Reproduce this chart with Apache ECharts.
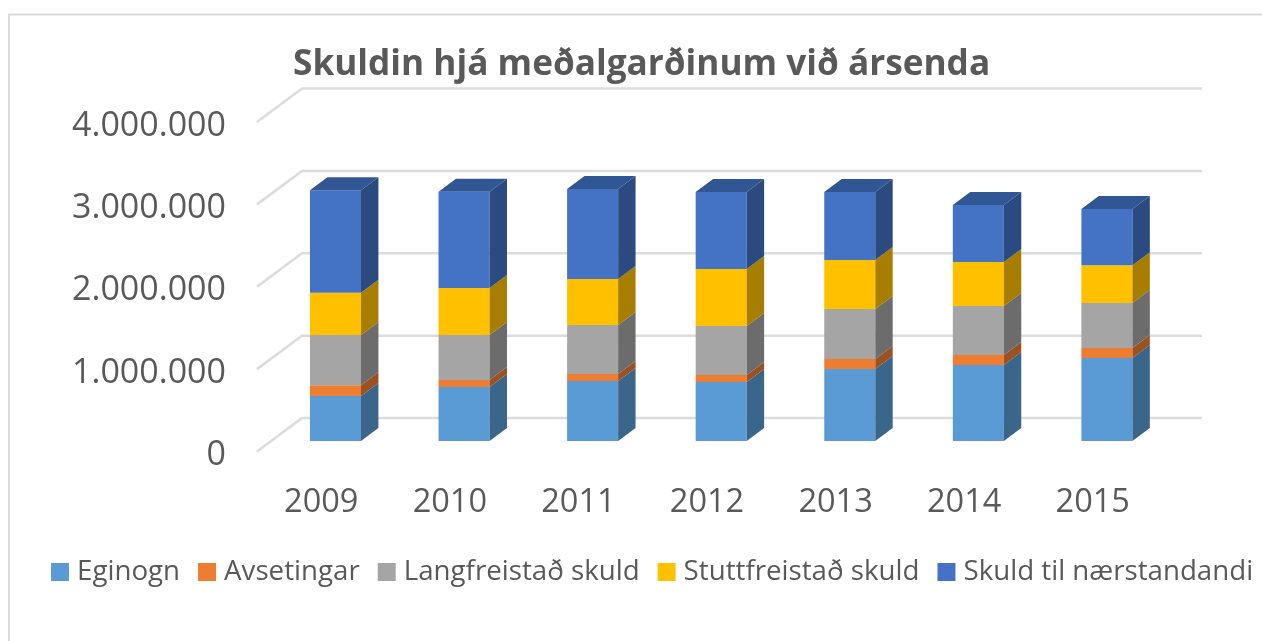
<!DOCTYPE html>
<html>
<head>
<meta charset="utf-8">
<title>Skuldin hjá meðalgarðinum við ársenda</title>
<script src="https://cdn.jsdelivr.net/npm/echarts@6/dist/echarts.min.js"></script>
<style>
html, body { margin: 0; padding: 0; background: #fff; }
#main { width: 1262px; height: 641px; }
</style>
</head>
<body>
<div id="main"></div>
<script>
var years = ['2009', '2010', '2011', '2012', '2013', '2014', '2015'];
var eginogn = [546000, 655000, 728000, 716000, 874000, 922000, 1007000];
var avsetingar = [130000, 85000, 85000, 85000, 121000, 121000, 121000];
var langfreistad = [610000, 546000, 595000, 595000, 607000, 595000, 546000];
var stuttfreistad = [513000, 570000, 558000, 692000, 595000, 534000, 461000];
var naerstandandi = [1246000, 1169000, 1092000, 934000, 825000, 692000, 680000];
var gridValues = [0, 1000000, 2000000, 3000000, 4000000];

var seriesNames = ['Eginogn', 'Avsetingar', 'Langfreistað skuld', 'Stuttfreistað skuld', 'Skuld til nærstandandi'];
var seriesValues = [eginogn, avsetingar, langfreistad, stuttfreistad, naerstandandi];
var frontColors = ['#5B9BD5', '#ED7D31', '#A5A5A5', '#FFC000', '#4472C4'];
var sideColors = ['#3A668C', '#9C5120', '#6C6C6C', '#A77E00', '#2B4A80'];
var topColor = '#315694';

// fake 3d: the floor runs back by this much, bars stand part way in
var floorDx = 45, floorDy = -33.5;
var barShiftX = 14.2, barShiftY = -10.5;
var barDepthX = 17.4, barDepthY = -13;

function makeBarSeries(idx) {
    var data = seriesValues[idx].map(function (v, i) {
        var base = 0;
        for (var k = 0; k < idx; k++) base += seriesValues[k][i];
        return [i, base, base + v];
    });
    return {
        name: seriesNames[idx],
        type: 'custom',
        silent: true,
        z: 3 + idx,
        itemStyle: { color: frontColors[idx] },
        encode: { x: 0, y: [1, 2] },
        data: data,
        renderItem: function (params, api) {
            var low = api.coord([api.value(0), api.value(1)]);
            var high = api.coord([api.value(0), api.value(2)]);
            var w = api.size([1, 0])[0] * 0.397;
            var x0 = low[0] - w / 2 + barShiftX;
            var x1 = x0 + w;
            var y0 = low[1] + barShiftY;
            var y1 = high[1] + barShiftY;
            var dx = barDepthX, dy = barDepthY;
            var kids = [
                { type: 'rect', shape: { x: x0, y: y1, width: w, height: y0 - y1 }, style: { fill: frontColors[idx] } },
                { type: 'polygon', shape: { points: [[x1, y0], [x1 + dx, y0 + dy], [x1 + dx, y1 + dy], [x1, y1]] }, style: { fill: sideColors[idx] } }
            ];
            if (idx === seriesValues.length - 1) {
                kids.push({ type: 'polygon', shape: { points: [[x0, y1], [x0 + dx, y1 + dy], [x1 + dx, y1 + dy], [x1, y1]] }, style: { fill: topColor } });
            }
            return { type: 'group', children: kids };
        }
    };
}

var series = seriesNames.map(function (n, i) { return makeBarSeries(i); });

// walls of the 3d box
series.unshift({
    name: 'grid',
    type: 'custom',
    silent: true,
    z: 1,
    encode: { x: 0, y: 1 },
    data: gridValues.map(function (v) { return [0, v]; }),
    renderItem: function (params, api) {
        var y = api.coord([0, api.value(1)])[1];
        var x = params.coordSys.x;
        var w = params.coordSys.width;
        return {
            type: 'polyline',
            shape: { points: [[x, y], [x + floorDx, y + floorDy], [x + floorDx + w, y + floorDy]] },
            style: { stroke: '#dcdcdc', lineWidth: 2.5, fill: null }
        };
    }
});

var myChart = echarts.init(document.getElementById('main'), null, { renderer: 'canvas' });
var option = {
    backgroundColor: '#fff',
    animation: false,
    title: {
        text: 'Skuldin hjá meðalgarðinum við ársenda',
        left: 288,
        top: 42,
        textStyle: { color: '#595959', fontSize: 35.2, fontWeight: 'bold', fontFamily: 'Open Sans' }
    },
    legend: {
        data: seriesNames,
        left: 46,
        top: 553,
        icon: 'rect',
        itemWidth: 18,
        itemHeight: 18,
        itemGap: 18,
        textStyle: { color: '#595959', fontSize: 27.7, fontFamily: 'Open Sans', padding: [0, 0, 0, 3] }
    },
    grid: { left: 257, width: 900, top: 122, height: 329.5 },
    xAxis: {
        type: 'category',
        data: years,
        axisLine: { show: false },
        axisTick: { show: false },
        axisLabel: { color: '#595959', fontSize: 32.5, fontFamily: 'Open Sans', margin: 35 }
    },
    yAxis: {
        type: 'value',
        min: 0,
        max: 4000000,
        interval: 1000000,
        splitLine: { show: false },
        axisLine: { show: false },
        axisTick: { show: false },
        axisLabel: {
            color: '#595959',
            fontSize: 34,
            fontFamily: 'Open Sans',
            margin: 31,
            verticalAlign: 'top',
            lineHeight: 8,
            formatter: function (v) { return String(v).replace(/\B(?=(\d{3})+$)/g, '.'); }
        }
    },
    graphic: [
        { type: 'polyline', silent: true, shape: { points: [[9, 641], [9, 14.5], [1262, 14.5]] }, style: { stroke: '#dcdcdc', lineWidth: 2, fill: null } }
    ],
    series: series
};
myChart.setOption(option);
window.onresize = myChart.resize;
</script>
</body>
</html>
